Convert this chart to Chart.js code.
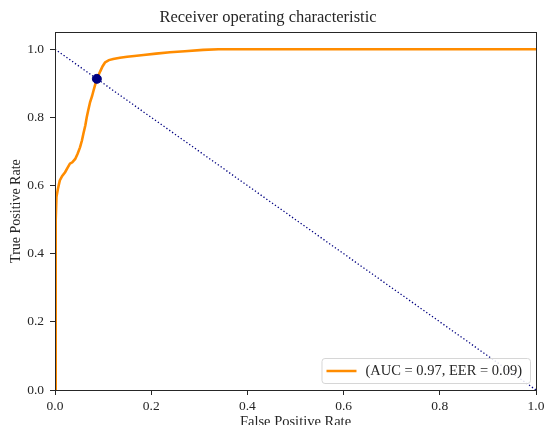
<!DOCTYPE html>
<html>
<head>
<meta charset="utf-8">
<script src="https://cdn.jsdelivr.net/npm/chart.js@4.4.1/dist/chart.umd.min.js"></script>
<style>
html,body{margin:0;padding:0;background:#fff;}
#wrap{width:545px;height:425px;}
</style>
</head>
<body>
<div id="wrap"><canvas id="c" width="545" height="425"></canvas></div>
<script>
// ROC curve
const fpr = [0, 0.0012, 0.0018, 0.003, 0.006, 0.010, 0.015, 0.021, 0.026, 0.031, 0.036, 0.042, 0.047, 0.052, 0.056, 0.059, 0.063, 0.066, 0.069, 0.073, 0.077, 0.080, 0.084, 0.087, 0.090, 0.094, 0.099, 0.104, 0.112, 0.121, 0.135, 0.150, 0.165, 0.184, 0.210, 0.239, 0.270, 0.308, 0.340, 1.0];
const tpr = [0, 0.30, 0.50, 0.566, 0.590, 0.615, 0.628, 0.639, 0.652, 0.664, 0.668, 0.678, 0.693, 0.712, 0.732, 0.752, 0.776, 0.800, 0.820, 0.845, 0.862, 0.878, 0.898, 0.913, 0.922, 0.935, 0.950, 0.961, 0.968, 0.971, 0.975, 0.978, 0.980, 0.983, 0.987, 0.991, 0.994, 0.998, 1.0, 1.0];
const chanceX = [0, 1];
const chanceY = [1, 0];
const eerX = [0.087];
const eerY = [0.913];
const tickValues = [0, 0.2, 0.4, 0.6, 0.8, 1.0];
const titleText = 'Receiver operating characteristic';
const xTitle = 'False Positive Rate';
const yTitle = 'True Positive Rate';
const curveLabel = '(AUC = 0.97, EER = 0.09)';

const FONT = "'Liberation Serif', 'Times New Roman', serif";
const INK = '#262626';

const frame = {
  id: 'frame',
  afterDatasetsDraw(chart) {
    const {ctx, chartArea: a} = chart;
    ctx.save();
    ctx.strokeStyle = INK;
    ctx.lineWidth = 1;
    ctx.strokeRect(Math.round(a.left) + 0.5, Math.round(a.top) + 0.5, Math.round(a.right - a.left), Math.round(a.bottom - a.top));
    ctx.restore();
  }
};

const legendBox = {
  id: 'legendBox',
  afterDraw(chart) {
    const {ctx, chartArea: a} = chart;
    const ds = chart.data.datasets[1];
    ctx.save();
    ctx.font = '14.5px ' + FONT;
    const tw = ctx.measureText(ds.label).width;
    const w = tw + 52, h = 25;
    const x = a.right - 6 - w, y = a.bottom - 7 - h;
    ctx.fillStyle = 'rgba(255,255,255,0.85)';
    ctx.strokeStyle = '#d6d6d6';
    ctx.lineWidth = 1;
    ctx.beginPath();
    ctx.roundRect(x + 0.5, y + 0.5, w, h, 3);
    ctx.fill();
    ctx.stroke();
    ctx.strokeStyle = ds.borderColor;
    ctx.lineWidth = 2.5;
    ctx.beginPath();
    ctx.moveTo(x + 5, y + h / 2 + 0.5);
    ctx.lineTo(x + 35, y + h / 2 + 0.5);
    ctx.stroke();
    ctx.fillStyle = INK;
    ctx.textBaseline = 'middle';
    ctx.fillText(ds.label, x + 44, y + h / 2 + 1);
    ctx.restore();
  }
};

new Chart(document.getElementById('c'), {
  type: 'line',
  data: {
    datasets: [
      {
        label: 'chance',
        data: chanceX.map((v, i) => ({x: v, y: chanceY[i]})),
        borderColor: 'navy',
        borderWidth: 1.3,
        borderDash: [1.3, 2.2],
        pointRadius: 0,
        fill: false,
        order: 3
      },
      {
        label: curveLabel,
        data: fpr.map((v, i) => ({x: v, y: tpr[i]})),
        borderColor: '#ff8c00',
        borderWidth: 2.6,
        pointRadius: 0,
        tension: 0,
        fill: false,
        order: 2
      },
      {
        label: 'EER',
        data: eerX.map((v, i) => ({x: v, y: eerY[i]})),
        showLine: false,
        pointRadius: 4.5,
        pointBackgroundColor: 'navy',
        pointBorderColor: 'navy',
        borderColor: 'navy',
        order: 1
      }
    ]
  },
  options: {
    responsive: false,
    animation: false,
    layout: {padding: {left: 0, right: 9, top: 0, bottom: 0}},
    plugins: {
      legend: {display: false},
      tooltip: {enabled: false},
      title: {
        display: true,
        text: titleText,
        color: INK,
        font: {family: FONT, size: 16.5, weight: 'normal', lineHeight: 1.1},
        padding: {top: 9, bottom: 5}
      }
    },
    scales: {
      x: {
        type: 'linear',
        min: 0, max: 1,
        afterFit(s) { s.height = 35; s.paddingLeft = 0; s.paddingRight = 0; },
        afterBuildTicks(s) { s.ticks = tickValues.map(v => ({value: v})); },
        ticks: {
          color: INK,
          font: {family: FONT, size: 13.5},
          padding: 3,
          maxRotation: 0,
          callback: v => v.toFixed(1)
        },
        grid: {display: true, drawOnChartArea: false, drawTicks: true, tickLength: 5, color: INK},
        border: {display: true, color: INK},
        title: {
          display: true,
          text: xTitle,
          color: INK,
          font: {family: FONT, size: 14.5, lineHeight: 1.2},
          padding: {top: 0, bottom: -6}
        }
      },
      y: {
        type: 'linear',
        min: 0, max: 1.05,
        afterFit(s) { s.width = 55; s.paddingTop = 0; s.paddingBottom = 0; },
        afterBuildTicks(s) { s.ticks = tickValues.map(v => ({value: v})); },
        ticks: {
          color: INK,
          font: {family: FONT, size: 13.5},
          padding: 6,
          callback: v => v.toFixed(1)
        },
        grid: {display: true, drawOnChartArea: false, drawTicks: true, tickLength: 5, color: INK},
        border: {display: true, color: INK},
        title: {
          display: true,
          text: yTitle,
          color: INK,
          font: {family: FONT, size: 14, lineHeight: 1.2},
          padding: {top: 8, bottom: 0}
        }
      }
    }
  },
  plugins: [frame, legendBox]
});
</script>
</body>
</html>
